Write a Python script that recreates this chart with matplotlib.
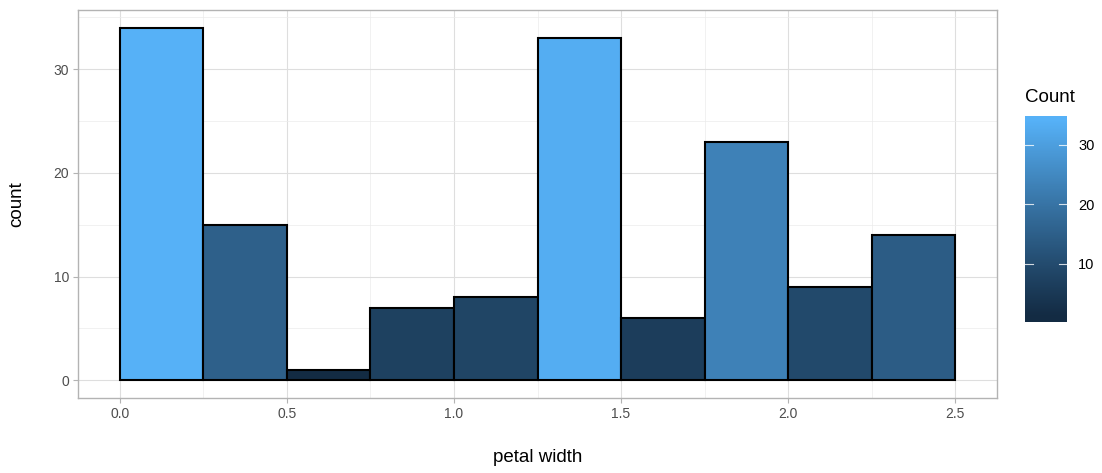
import numpy as np
import matplotlib
matplotlib.use("Agg")
import matplotlib.pyplot as plt
from matplotlib.colors import ListedColormap, Normalize

plt.rcParams['font.family'] = ['Liberation Sans', 'DejaVu Sans']

bin_edges = [0.0, 0.25, 0.5, 0.75, 1.0, 1.25, 1.5, 1.75, 2.0, 2.25, 2.5]
counts = [34, 15, 1, 7, 8, 33, 6, 23, 9, 14]
x_ticks = [0.0, 0.5, 1.0, 1.5, 2.0, 2.5]
x_ticklabels = ["0.0", "0.5", "1.0", "1.5", "2.0", "2.5"]
y_ticks = [0, 10, 20, 30]
cbar_ticks = [10, 20, 30]


def srgb_to_lab(hexc):
    c = np.array([int(hexc[i:i+2], 16) / 255 for i in (1, 3, 5)])
    lin = np.where(c <= 0.04045, c / 12.92, ((c + 0.055) / 1.055) ** 2.4)
    M = np.array([[0.4124, 0.3576, 0.1805], [0.2126, 0.7152, 0.0722], [0.0193, 0.1192, 0.9505]])
    xyz = M @ lin
    wn = np.array([0.95047, 1.0, 1.08883])
    t = xyz / wn
    f = np.where(t > (6/29) ** 3, np.cbrt(t), t / (3 * (6/29) ** 2) + 4/29)
    return np.array([116 * f[1] - 16, 500 * (f[0] - f[1]), 200 * (f[1] - f[2])])


def lab_to_srgb(lab):
    L, a, b = lab
    fy = (L + 16) / 116
    fx = fy + a / 500
    fz = fy - b / 200
    f = np.array([fx, fy, fz])
    t = np.where(f > 6/29, f ** 3, 3 * (6/29) ** 2 * (f - 4/29))
    wn = np.array([0.95047, 1.0, 1.08883])
    xyz = t * wn
    Minv = np.array([[3.2406, -1.5372, -0.4986], [-0.9689, 1.8758, 0.0415], [0.0557, -0.2040, 1.0570]])
    lin = Minv @ xyz
    lin = np.clip(lin, 0, 1)
    c = np.where(lin <= 0.0031308, 12.92 * lin, 1.055 * lin ** (1/2.4) - 0.055)
    return np.clip(c, 0, 1)


lo, hi = srgb_to_lab("#132B43"), srgb_to_lab("#56B1F7")
cmap = ListedColormap([lab_to_srgb(lo + (hi - lo) * t) for t in np.linspace(0, 1, 256)])
norm = Normalize(vmin=min(counts), vmax=max(counts))

W, H = 1102, 473
fig = plt.figure(figsize=(W / 100, H / 100), dpi=100)
ax = fig.add_axes([78 / W, 1 - 398 / H, (997 - 78) / W, (398 - 10) / H])

edges = np.array(bin_edges)
widths = np.diff(edges)
ax.bar(edges[:-1], counts, width=widths, align='edge',
       color=[cmap(norm(c)) for c in counts], edgecolor='black', linewidth=1.5, zorder=3)

ax.set_xlim(-0.125, 2.625)
ax.set_ylim(-1.7, 35.7)
ax.set_xticks(x_ticks)
ax.set_xticklabels(x_ticklabels)
ax.set_yticks(y_ticks)
ax.set_xticks([0.25, 0.75, 1.25, 1.75, 2.25], minor=True)
ax.set_yticks([5, 15, 25, 35], minor=True)
ax.grid(which='major', color='#DEDEDE', linewidth=0.8, zorder=0)
ax.grid(which='minor', color='#EBEBEB', linewidth=0.5, zorder=0)
ax.set_axisbelow(True)
for s in ax.spines.values():
    s.set_color('#B3B3B3')
    s.set_linewidth(1.0)
ax.tick_params(which='major', color='#B3B3B3', length=3.5, width=0.8,
               labelcolor='#4D4D4D', labelsize=10, pad=3)
ax.tick_params(which='minor', length=0)
ax.set_xlabel('petal width', fontsize=13.5, labelpad=20, color='black')
ax.set_ylabel('count', fontsize=13.5, labelpad=20, color='black')

# colorbar (ggplot-style: bar spans half a bin beyond the limits, nbin=20)
step = (norm.vmax - norm.vmin) / 19
cb_lo, cb_hi = norm.vmin - step / 2, norm.vmax + step / 2
cax = fig.add_axes([1025 / W, 1 - 322.5 / H, (1067 - 1025) / W, (322.5 - 115.7) / H])
grad = np.linspace(cb_lo, cb_hi, 300).reshape(-1, 1)
cax.imshow(grad, aspect='auto', cmap=cmap, norm=norm, origin='lower',
           extent=[0, 1, cb_lo, cb_hi])
cax.set_xlim(0, 1)
cax.set_ylim(cb_lo, cb_hi)
for s in cax.spines.values():
    s.set_visible(False)
cax.set_xticks([])
cax.set_yticks(cbar_ticks)
cax.yaxis.tick_right()
cax.tick_params(axis='y', length=0, labelsize=10.5, labelcolor='black', pad=8)
for t in cbar_ticks:
    cax.plot([0, 0.2], [t, t], color='white', lw=0.8, alpha=0.8)
    cax.plot([0.8, 1], [t, t], color='white', lw=0.8, alpha=0.8)
fig.text(1025 / W, 1 - 98 / H, 'Count', fontsize=13.5, va='center', ha='left')

fig.savefig('out.png', dpi=100)
